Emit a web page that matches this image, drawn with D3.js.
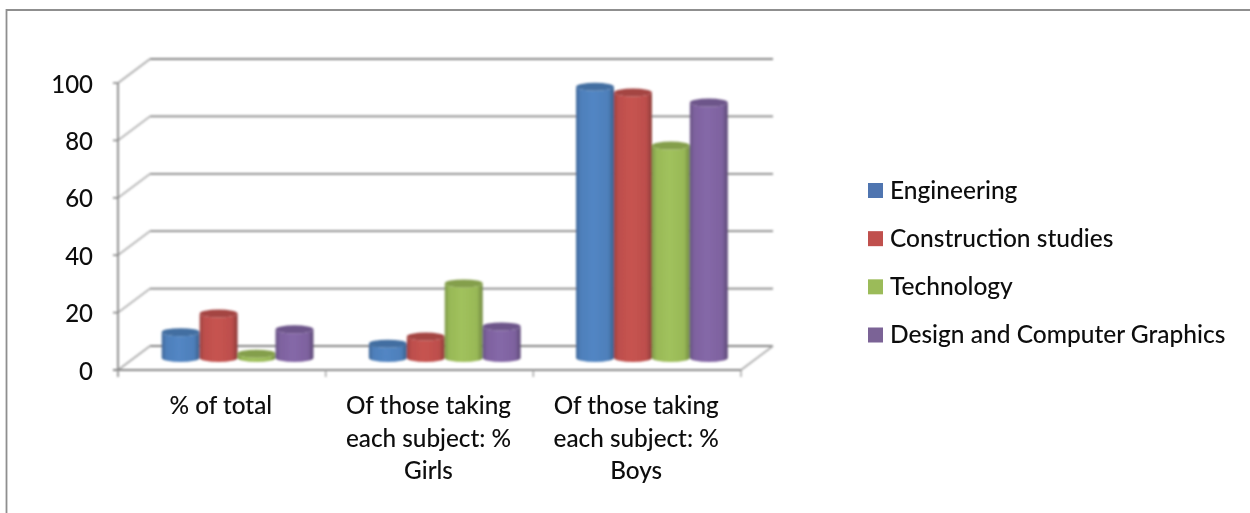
<!DOCTYPE html>
<html><head><meta charset="utf-8">
<script src="https://cdnjs.cloudflare.com/ajax/libs/d3/7.8.5/d3.min.js"></script>
<style>html,body{margin:0;background:#fff}svg{display:block}text{font-family:Lato,"Open Sans",sans-serif;fill:#0a0a0a}</style>
</head><body><svg width="1250" height="513"></svg>
<script>
const categories=[["% of total"],["Of those taking","each subject: %","Girls"],["Of those taking","each subject: %","Boys"]];
const seriesNames=["Engineering","Construction studies","Technology","Design and Computer Graphics"];
const engineering=[9,5,94.5];
const construction=[15.5,7.5,92.5];
const technology=[1.5,26,74];
const design=[10,11,89];
const seriesValues=[engineering,construction,technology,design];
const baseColors=["#4f81bd","#c0504d","#9bbb59","#8064a2"];
const legendColors=["#4f75b0","#c0504d","#9bbb59","#7b6396"];
const yTicks=[0,20,40,60,80,100];

const svg=d3.select("svg");
const dx=32,dy=-24,ry=4;
const y=d3.scaleLinear().domain([0,100]).range([370,83]);
const x0=d3.scaleBand().domain(d3.range(categories.length)).range([118,741]);
const xBars=d3.scaleBand().domain(d3.range(categories.length)).range([118,739.5]);
const x1=d3.scaleBand().domain(d3.range(seriesNames.length)).range([0,xBars.bandwidth()]).paddingInner(0).paddingOuter(0.73);
const defs=svg.append("defs");
defs.append("filter").attr("id","soft").append("feGaussianBlur").attr("stdDeviation",0.8);
defs.append("filter").attr("id","softText").append("feGaussianBlur").attr("stdDeviation",0.3);
baseColors.forEach((c,i)=>{
  const g=defs.append("linearGradient").attr("id","g"+i);
  const col=d3.color(c);
  [[0,col.darker(0.6)],[0.12,col.darker(0.05)],[0.45,col.brighter(0.1)],[0.85,col.darker(0.05)],[1,col.darker(0.9)]].forEach(([o,k])=>g.append("stop").attr("offset",o).attr("stop-color",k));
});
// frame
svg.append("path").attr("d","M6.5,513V10H1250").attr("fill","none").attr("stroke","#8f8f8f").attr("stroke-width",1.8);
const grid="#858585";
const chart=svg.append("g").attr("filter","url(#soft)");
// gridlines and side wall
yTicks.forEach(t=>{
  chart.append("line").attr("x1",118+dx).attr("x2",741+dx).attr("y1",y(t)+dy).attr("y2",y(t)+dy).attr("stroke",grid).attr("stroke-width",1.8);
  chart.append("line").attr("x1",118).attr("x2",118+dx).attr("y1",y(t)).attr("y2",y(t)+dy).attr("stroke","#a8a8a8").attr("stroke-width",1.6);
  chart.append("line").attr("x1",113).attr("x2",118).attr("y1",y(t)).attr("y2",y(t)).attr("stroke",grid).attr("stroke-width",1.6);
});
chart.append("line").attr("x1",741).attr("x2",741+dx).attr("y1",370).attr("y2",370+dy).attr("stroke","#a8a8a8").attr("stroke-width",1.6);
chart.append("line").attr("x1",118).attr("x2",118).attr("y1",83).attr("y2",377).attr("stroke",grid).attr("stroke-width",1.8);
chart.append("line").attr("x1",113).attr("x2",741).attr("y1",370).attr("y2",370).attr("stroke",grid).attr("stroke-width",1.8);
d3.range(categories.length+1).forEach(i=>{
  const xx=i<categories.length?x0(i):741;
  chart.append("line").attr("x1",xx).attr("x2",xx).attr("y1",370).attr("y2",377).attr("stroke","#a0a0a0").attr("stroke-width",1.4);
});
// cylinders
const cx=(c,s)=>xBars(c)+x1(s)+x1.bandwidth()/2+dx/2;
const yd=v=>y(v)+dy/2;
categories.forEach((_,c)=>{
  seriesNames.forEach((_,s)=>{
    const v=seriesValues[s][c],X=cx(c,s),R=x1.bandwidth()/2,T=yd(v),B=yd(0);
    const col=d3.color(baseColors[s]);
    chart.append("path")
      .attr("d",`M${X-R},${T}L${X-R},${B}A${R},${ry} 0 0 0 ${X+R},${B}L${X+R},${T}A${R},${ry} 0 0 1 ${X-R},${T}Z`)
      .attr("fill",`url(#g${s})`);
    chart.append("ellipse").attr("cx",X).attr("cy",T).attr("rx",R).attr("ry",ry).attr("fill",col.darker(0.45));
  });
});
const labels=svg.append("g").attr("filter","url(#softText)");
// y labels
labels.selectAll("text.y").data(yTicks).join("text").attr("class","y")
  .attr("x",93).attr("y",d=>y(d)+9.5).attr("text-anchor","end").attr("font-size",24).attr("font-weight",500).text(d=>d);
// category labels
categories.forEach((lines,c)=>{
  lines.forEach((l,i)=>{
    labels.append("text").attr("x",x0(c)+x0.bandwidth()/2-1).attr("y",414+i*32.5).attr("text-anchor","middle").attr("font-size",24.3).attr("font-weight",500).text(l);
  });
});
// legend
const ly=d3.scalePoint().domain(d3.range(seriesNames.length)).range([190.5,335]);
seriesNames.forEach((n,i)=>{
  svg.append("rect").attr("x",868).attr("y",ly(i)-7.5).attr("width",15).attr("height",15).attr("fill",legendColors[i]);
  labels.append("text").attr("x",890).attr("y",ly(i)+8).attr("font-size",24.5).attr("font-weight",500).text(n);
});
</script></body></html>
